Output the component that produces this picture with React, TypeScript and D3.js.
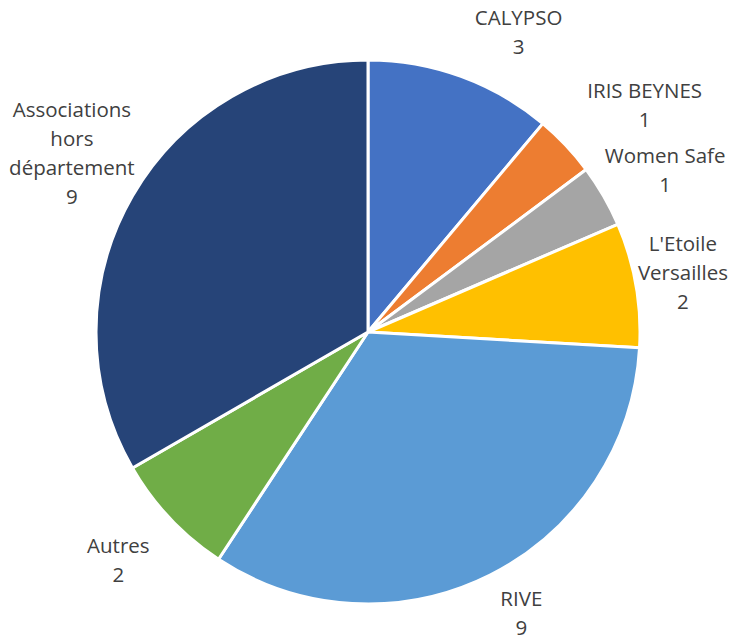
import React, { useEffect, useRef } from 'react';
import * as d3 from 'd3';

// slice data, clockwise from 12 o'clock
const names = [
  ['CALYPSO'],
  ['IRIS BEYNES'],
  ['Women Safe'],
  ["L'Etoile", 'Versailles'],
  ['RIVE'],
  ['Autres'],
  ['Associations', 'hors', 'département'],
];
const values = [3, 1, 1, 2, 9, 2, 9];
const colors = ['#4472C4', '#ED7D31', '#A5A5A5', '#FFC000', '#5B9BD5', '#70AD47', '#264478'];

// small label nudges to mimic the spreadsheet's best-fit placement
const nudges = [[36, 15], [33, 3], [7, 6], [-15, -1], [3, -18], [-6, -2], [-6, -11]];

const W = 731;
const H = 642;

const App = () => {
  const svgRef = useRef<SVGSVGElement>(null);

  useEffect(() => {
    const cx = 368;
    const cy = 332;
    const radius = 272;
    const labelR = 335;
    const lineH = 29;

    const data = values.map((v, i) => ({ value: v, lines: [...names[i], String(v)], color: colors[i], i }));

    d3.select(svgRef.current).selectAll('*').remove();
    const svg = d3.select(svgRef.current)
      .attr('width', W)
      .attr('height', H);

    const g = svg.append('g').attr('transform', `translate(${cx},${cy})`);

    const pie = d3.pie<any>().value(d => d.value).sort(null);
    const arc = d3.arc<any>().innerRadius(0).outerRadius(radius);
    const labelArc = d3.arc<any>().innerRadius(labelR).outerRadius(labelR);
    const arcs = pie(data);

    g.selectAll('path.slice')
      .data(arcs)
      .join('path')
      .attr('class', 'slice')
      .attr('d', arc)
      .attr('fill', d => d.data.color)
      .attr('stroke', '#ffffff')
      .attr('stroke-width', 3)
      .attr('stroke-linejoin', 'round');

    const labels = g.selectAll('g.label')
      .data(arcs)
      .join('g')
      .attr('class', 'label')
      .attr('transform', d => {
        const [x, y] = labelArc.centroid(d);
        const [dx, dy] = nudges[d.data.i];
        return `translate(${x + dx},${y + dy})`;
      });

    labels.each(function (d) {
      const n = d.data.lines.length;
      d3.select(this).selectAll('text')
        .data(d.data.lines)
        .join('text')
        .attr('x', 0)
        .attr('y', (_, j) => (j - (n - 1) / 2) * lineH)
        .attr('dy', '0.35em')
        .attr('text-anchor', 'middle')
        .attr('font-family', '"Open Sans", Lato, sans-serif')
        .attr('font-size', 20.5)
        .attr('fill', '#404040')
        .text(t => t as string);
    });
  }, []);

  return (
    <div style={{ position: 'absolute', left: 0, top: 0, width: W, height: H, background: '#ffffff' }}>
      <svg ref={svgRef} style={{ display: 'block' }}></svg>
    </div>
  );
};

export default App;
